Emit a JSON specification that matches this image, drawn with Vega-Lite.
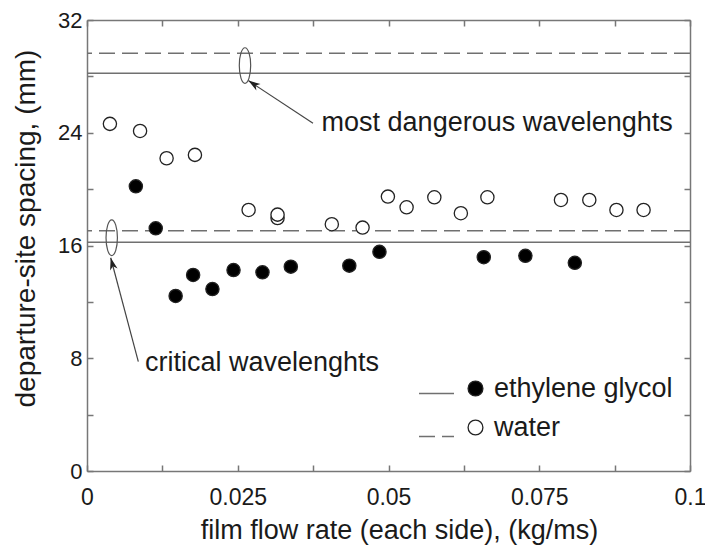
{
  "$schema": "https://vega.github.io/schema/vega-lite/v6.json",
  "width": 603,
  "height": 451,
  "autosize": {"type": "none"},
  "padding": {"left": 87, "top": 20, "right": 15, "bottom": 76},
  "background": "white",
  "config": {
    "view": {"stroke": null},
    "font": "Liberation Sans",
    "axis": {"grid": false}
  },
  "datasets": {
    "lines": [
      {"fluid": "ethylene glycol", "spacing": 16.23},
      {"fluid": "water", "spacing": 17.05},
      {"fluid": "ethylene glycol", "spacing": 28.22},
      {"fluid": "water", "spacing": 29.64}
    ],
    "points": [
      {"fluid": "ethylene glycol", "rate": 0.0081, "spacing": 20.2},
      {"fluid": "ethylene glycol", "rate": 0.0114, "spacing": 17.22},
      {"fluid": "ethylene glycol", "rate": 0.0147, "spacing": 12.42},
      {"fluid": "ethylene glycol", "rate": 0.0176, "spacing": 13.91},
      {"fluid": "ethylene glycol", "rate": 0.0208, "spacing": 12.91},
      {"fluid": "ethylene glycol", "rate": 0.0243, "spacing": 14.26},
      {"fluid": "ethylene glycol", "rate": 0.0291, "spacing": 14.1},
      {"fluid": "ethylene glycol", "rate": 0.0338, "spacing": 14.5},
      {"fluid": "ethylene glycol", "rate": 0.0435, "spacing": 14.57},
      {"fluid": "ethylene glycol", "rate": 0.0485, "spacing": 15.55},
      {"fluid": "ethylene glycol", "rate": 0.0658, "spacing": 15.17},
      {"fluid": "ethylene glycol", "rate": 0.0727, "spacing": 15.27},
      {"fluid": "ethylene glycol", "rate": 0.0809, "spacing": 14.77},
      {"fluid": "water", "rate": 0.0038, "spacing": 24.63},
      {"fluid": "water", "rate": 0.0088, "spacing": 24.13},
      {"fluid": "water", "rate": 0.0132, "spacing": 22.19},
      {"fluid": "water", "rate": 0.0179, "spacing": 22.43},
      {"fluid": "water", "rate": 0.0268, "spacing": 18.52},
      {"fluid": "water", "rate": 0.0316, "spacing": 17.95},
      {"fluid": "water", "rate": 0.0316, "spacing": 18.19},
      {"fluid": "water", "rate": 0.0406, "spacing": 17.51},
      {"fluid": "water", "rate": 0.0457, "spacing": 17.27},
      {"fluid": "water", "rate": 0.0499, "spacing": 19.47},
      {"fluid": "water", "rate": 0.053, "spacing": 18.71},
      {"fluid": "water", "rate": 0.0576, "spacing": 19.42},
      {"fluid": "water", "rate": 0.062, "spacing": 18.29},
      {"fluid": "water", "rate": 0.0664, "spacing": 19.42},
      {"fluid": "water", "rate": 0.0786, "spacing": 19.23},
      {"fluid": "water", "rate": 0.0833, "spacing": 19.23},
      {"fluid": "water", "rate": 0.0878, "spacing": 18.52},
      {"fluid": "water", "rate": 0.0923, "spacing": 18.52}
    ],
    "notes": [
      {"name": "most", "label": "most dangerous wavelenghts", "ex": 0.0262, "ey": 28.77, "x1": 0.03748, "y1": 24.67, "x2": 0.02675, "y2": 27.7, "tx": 0.0389, "ty": 24.13},
      {"name": "critical", "label": "critical wavelenghts", "ex": 0.0041, "ey": 16.55, "x1": 0.00851, "y1": 7.755, "x2": 0.00393, "y2": 15.13, "tx": 0.0096, "ty": 7.12}
    ]
  },
  "layer": [
    {
      "data": {"name": "lines"},
      "mark": {"type": "rule", "color": "#707070", "strokeWidth": 1.5},
      "encoding": {
        "y": {"field": "spacing", "type": "quantitative", "axis": null},
        "strokeDash": {
          "field": "fluid",
          "type": "nominal",
          "scale": {"range": [[1, 0], [16, 7]]},
          "legend": {
            "orient": "none",
            "legendX": 331,
            "legendY": 355,
            "title": null,
            "padding": 0,
            "symbolType": "stroke",
            "symbolSize": 1225,
            "symbolStrokeColor": "#707070",
            "symbolStrokeWidth": 1.5,
            "labelExpr": "''",
            "labelFontSize": 27,
            "rowPadding": 11
          }
        }
      }
    },
    {
      "data": {"name": "notes"},
      "mark": {"type": "rule", "color": "#444", "strokeWidth": 1.2},
      "encoding": {
        "x": {"field": "x1", "type": "quantitative", "axis": null},
        "y": {"field": "y1", "type": "quantitative", "axis": null},
        "x2": {"field": "x2"},
        "y2": {"field": "y2"}
      }
    },
    {
      "data": {"name": "notes"},
      "transform": [{"filter": "datum.name == 'most'"}],
      "mark": {"type": "point", "shape": "M0,0L-0.7,2.2L0,1.6L0.7,2.2Z", "filled": true, "color": "#222", "size": 121, "angle": 303, "opacity": 1},
      "encoding": {
        "x": {"field": "x2", "type": "quantitative", "axis": null},
        "y": {"field": "y2", "type": "quantitative", "axis": null}
      }
    },
    {
      "data": {"name": "notes"},
      "transform": [{"filter": "datum.name == 'critical'"}],
      "mark": {"type": "point", "shape": "M0,0L-0.7,2.2L0,1.6L0.7,2.2Z", "filled": true, "color": "#222", "size": 121, "angle": 345, "opacity": 1},
      "encoding": {
        "x": {"field": "x2", "type": "quantitative", "axis": null},
        "y": {"field": "y2", "type": "quantitative", "axis": null}
      }
    },
    {
      "data": {"name": "notes"},
      "mark": {"type": "point", "shape": "M0,-1A0.32,1 0 1,1 0,1A0.32,1 0 1,1 0,-1Z", "filled": false, "stroke": "#555", "strokeWidth": 1.2, "size": 1267, "opacity": 1},
      "encoding": {
        "x": {
          "field": "ex", "type": "quantitative",
          "axis": {
            "orient": "top",
            "values": [0, 0.0125, 0.025, 0.0375, 0.05, 0.0625, 0.075, 0.0875, 0.1],
            "labels": false,
            "title": null,
            "tickSize": -6,
            "domainColor": "#777",
            "tickColor": "#777",
            "domainWidth": 1.5,
            "tickWidth": 1.5
          }
        },
        "y": {
          "field": "ey", "type": "quantitative",
          "axis": {
            "orient": "right",
            "values": [0, 4, 8, 12, 16, 20, 24, 28, 32],
            "labels": false,
            "title": null,
            "tickSize": -6,
            "domainColor": "#777",
            "tickColor": "#777",
            "domainWidth": 1.5,
            "tickWidth": 1.5
          }
        }
      }
    },
    {
      "data": {"name": "notes"},
      "mark": {"type": "text", "fontSize": 27, "font": "Liberation Sans", "color": "#1a1a1a", "align": "left", "baseline": "alphabetic"},
      "encoding": {
        "x": {"field": "tx", "type": "quantitative", "axis": null},
        "y": {"field": "ty", "type": "quantitative", "axis": null},
        "text": {"field": "label"}
      }
    },
    {
      "data": {"name": "points"},
      "mark": {"type": "point", "shape": "circle", "filled": true, "stroke": "#222", "strokeWidth": 1.3, "size": 175, "opacity": 1},
      "encoding": {
        "x": {
          "field": "rate", "type": "quantitative",
          "scale": {"domain": [0, 0.1], "nice": false, "zero": true},
          "axis": {
            "orient": "bottom",
            "values": [0, 0.0125, 0.025, 0.0375, 0.05, 0.0625, 0.075, 0.0875, 0.1],
            "labelExpr": "(datum.value == 0 || datum.value == 0.025 || datum.value == 0.05 || datum.value == 0.075 || datum.value == 0.1) ? format(datum.value, '~g') : ''",
            "labelOverlap": false,
            "labelFlush": false,
            "labelBound": false,
            "tickSize": -6,
            "labelPadding": 21,
            "labelFontSize": 23,
            "labelFont": "Liberation Sans",
            "labelColor": "#1a1a1a",
            "domainColor": "#777",
            "tickColor": "#777",
            "domainWidth": 1.5,
            "tickWidth": 1.5,
            "title": "film flow rate (each side), (kg/ms)",
            "titleFont": "Liberation Sans",
            "titleFontSize": 27,
            "titleFontWeight": "normal",
            "titleColor": "#1a1a1a",
            "titleX": 312,
            "titleY": 67,
            "titleBaseline": "alphabetic"
          }
        },
        "y": {
          "field": "spacing", "type": "quantitative",
          "scale": {"domain": [0, 32], "nice": false},
          "axis": {
            "orient": "left",
            "values": [0, 4, 8, 12, 16, 20, 24, 28, 32],
            "format": "d",
            "labelExpr": "datum.value % 8 == 0 ? datum.label : ''",
            "labelOverlap": false,
            "labelFlush": false,
            "labelBound": false,
            "tickSize": -6,
            "labelPadding": 11,
            "labelFontSize": 22,
            "labelFont": "Liberation Sans",
            "labelColor": "#1a1a1a",
            "domainColor": "#777",
            "tickColor": "#777",
            "domainWidth": 1.5,
            "tickWidth": 1.5,
            "title": "departure-site spacing, (mm)",
            "titleFont": "Liberation Sans",
            "titleFontSize": 28,
            "titleFontWeight": "normal",
            "titleColor": "#1a1a1a",
            "titleX": -53,
            "titleY": 208,
            "titleAngle": 270,
            "titleBaseline": "alphabetic"
          }
        },
        "fill": {
          "field": "fluid",
          "type": "nominal",
          "scale": {"domain": ["ethylene glycol", "water"], "range": ["#000000", "#ffffff"]},
          "legend": {
            "orient": "none",
            "legendX": 375,
            "legendY": 355,
            "title": null,
            "padding": 0,
            "symbolType": "circle",
            "symbolSize": 220,
            "symbolStrokeColor": "#222",
            "symbolStrokeWidth": 1.3,
            "labelFont": "Liberation Sans",
            "labelFontSize": 27,
            "labelColor": "#1a1a1a",
            "labelOffset": 5,
            "labelLimit": 400,
            "rowPadding": 11
          }
        }
      }
    }
  ]
}
